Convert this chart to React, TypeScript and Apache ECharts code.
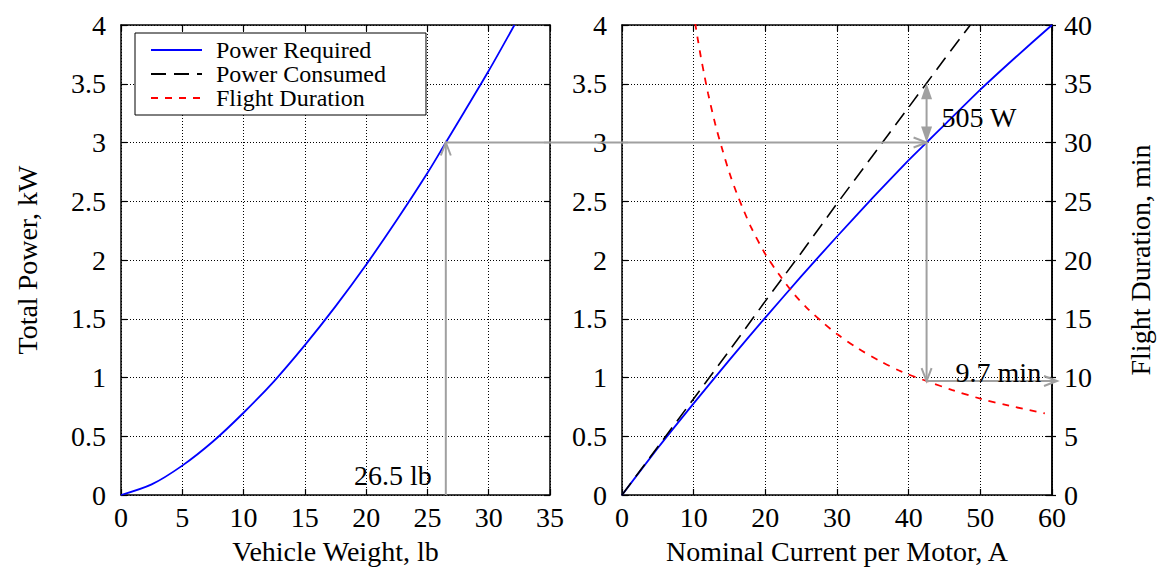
import React, { useEffect, useRef } from "react";
import * as echarts from "echarts";

// ---------- data ----------
const weightLb = [0, 2.5, 5, 7.5, 10, 12.5, 15, 17.5, 20, 22.5, 25, 26.5, 28, 30, 32.1];
const powerVsWeightKW = [0, 0.09, 0.25, 0.455, 0.7, 0.97, 1.275, 1.605, 1.96, 2.34, 2.74, 3.0, 3.26, 3.61, 4.0];

const currentReqA = [0, 5, 10, 15, 20, 25, 30, 35, 40, 42.5, 45, 50, 55, 60];
const powerRequiredKW = [0, 0.4, 0.78, 1.15, 1.51, 1.86, 2.2, 2.53, 2.85, 3.0, 3.15, 3.45, 3.73, 4.0];

const currentConsA = [0, 5, 10, 15, 20, 25, 30, 35, 40, 42.5, 45, 48.6];
const powerConsumedKW = [0, 0.41, 0.82, 1.23, 1.65, 2.06, 2.48, 2.89, 3.3, 3.505, 3.71, 4.0];

const currentDurA = [10.2, 10.6, 11, 11.5, 12, 13, 14, 15, 16, 17, 18, 20, 22, 24, 26, 28, 30, 33, 36, 39, 42.5, 46, 50, 54, 59];
const flightDurationMin = [40.2, 38.7, 37.3, 35.7, 34.2, 31.6, 29.4, 27.4, 25.7, 24.2, 22.8, 20.5, 18.7, 17.1, 15.8, 14.7, 13.7, 12.45, 11.4, 10.5, 9.7, 8.95, 8.2, 7.6, 6.95];

const weightTicks = { min: 0, max: 35, interval: 5 };
const currentTicks = { min: 0, max: 60, interval: 10 };
const powerTicks = { min: 0, max: 4, interval: 0.5 };
const durationTicks = { min: 0, max: 40, interval: 5 };

const annotWeight = 26.5;
const annotPower = 3;
const annotCurrent = 42.5;
const annotPowerDiff = 0.505;
const annotDuration = 9.7;

const labels = {
  weight: "26.5 lb",
  diff: "505 W",
  duration: "9.7 min",
};

// ---------- style ----------
const FONT = "Liberation Serif";
const FS = 28;
const LEGEND_FS = 24;
const GRAY = "#a0a0a0";

const zip = (xs: number[], ys: number[]) => xs.map((x, i) => [x, ys[i]]);

function frameAxis(extra: any) {
  return {
    type: "value",
    axisLine: { show: true, onZero: false, lineStyle: { color: "#000", width: 1.5 } },
    axisTick: { show: true, inside: true, length: 6, lineStyle: { color: "#000", width: 1.2 } },
    axisLabel: { show: false },
    splitLine: { show: false },
    ...extra,
  };
}

const labelStyle = (margin: number) => ({
  show: true,
  fontFamily: FONT,
  fontSize: FS,
  color: "#000",
  margin,
});

const gridLine = {
  show: true,
  lineStyle: { color: "#000", width: 1, type: [1, 2] },
};

const nameStyle = { fontFamily: FONT, fontSize: FS, color: "#000" };

export default function App() {
  const ref = useRef<HTMLDivElement>(null);

  useEffect(() => {
    if (!ref.current) return;
    const chart = echarts.init(ref.current, null, { renderer: "svg" });

    const option: any = {
      animation: false,
      backgroundColor: "#fff",
      textStyle: { fontFamily: FONT },
      grid: [
        { left: 121, top: 25, width: 429, height: 470 },
        { left: 622, top: 25, width: 430, height: 470 },
      ],
      xAxis: [
        frameAxis({
          gridIndex: 0,
          position: "bottom",
          ...weightTicks,
          axisLabel: labelStyle(8),
          splitLine: gridLine,
          name: "Vehicle Weight, lb",
          nameLocation: "middle",
          nameGap: 42,
          nameTextStyle: nameStyle,
        }),
        frameAxis({ gridIndex: 0, position: "top", ...weightTicks }),
        frameAxis({
          gridIndex: 1,
          position: "bottom",
          ...currentTicks,
          axisLabel: labelStyle(8),
          splitLine: gridLine,
          name: "Nominal Current per Motor, A",
          nameLocation: "middle",
          nameGap: 42,
          nameTextStyle: nameStyle,
        }),
        frameAxis({ gridIndex: 1, position: "top", ...currentTicks }),
      ],
      yAxis: [
        frameAxis({
          gridIndex: 0,
          position: "left",
          ...powerTicks,
          axisLabel: labelStyle(15),
          splitLine: gridLine,
          name: "Total Power, kW",
          nameLocation: "middle",
          nameGap: 80,
          nameTextStyle: nameStyle,
        }),
        frameAxis({ gridIndex: 0, position: "right", ...powerTicks }),
        frameAxis({
          gridIndex: 1,
          position: "left",
          ...powerTicks,
          axisLabel: labelStyle(15),
          splitLine: gridLine,
        }),
        frameAxis({
          gridIndex: 1,
          position: "right",
          ...durationTicks,
          axisTick: { show: true, inside: false, length: 4, lineStyle: { color: "#000", width: 1.2 } },
          axisLabel: labelStyle(12),
          name: "Flight Duration, min",
          nameLocation: "middle",
          nameGap: 74,
          nameTextStyle: nameStyle,
        }),
        frameAxis({ gridIndex: 1, position: "right", ...powerTicks }),
      ],
      legend: {
        orient: "vertical",
        left: 135,
        top: 33,
        data: ["Power Required", "Power Consumed", "Flight Duration"],
        backgroundColor: "#fff",
        borderColor: "#000",
        borderWidth: 1,
        borderRadius: 0,
        padding: [5, 40, 5, 15],
        itemWidth: 51,
        itemHeight: 24,
        itemGap: 0,
        itemStyle: { opacity: 0, borderWidth: 0 },
        textStyle: {
          fontFamily: FONT,
          fontSize: LEGEND_FS,
          color: "#000",
          padding: [0, 0, 0, 9],
        },
        z: 10,
      },
      series: [
        {
          name: "Power Required",
          type: "line",
          xAxisIndex: 0,
          yAxisIndex: 0,
          data: zip(weightLb, powerVsWeightKW),
          symbol: "none",
          smooth: 0.3,
          lineStyle: { color: "#0000ff", width: 1.8 },
          itemStyle: { color: "#0000ff" },
        },
        {
          name: "Power Required",
          type: "line",
          xAxisIndex: 2,
          yAxisIndex: 2,
          data: zip(currentReqA, powerRequiredKW),
          symbol: "none",
          smooth: 0.2,
          lineStyle: { color: "#0000ff", width: 1.8 },
          itemStyle: { color: "#0000ff" },
        },
        {
          name: "Power Consumed",
          type: "line",
          xAxisIndex: 2,
          yAxisIndex: 2,
          data: zip(currentConsA, powerConsumedKW),
          symbol: "none",
          lineStyle: { color: "#000", width: 1.6, type: [15, 8] },
          itemStyle: { color: "#000" },
        },
        {
          name: "Flight Duration",
          type: "line",
          xAxisIndex: 2,
          yAxisIndex: 3,
          data: zip(currentDurA, flightDurationMin),
          symbol: "none",
          smooth: 0.3,
          lineStyle: { color: "#ff0000", width: 1.8, type: [7, 7] },
          itemStyle: { color: "#ff0000" },
        },
      ],
    };

    chart.setOption(option);

    const px = (axis: number, v: number) => chart.convertToPixel({ xAxisIndex: axis } as any, v) as number;
    const py = (axis: number, v: number) => chart.convertToPixel({ yAxisIndex: axis } as any, v) as number;

    const xW = px(0, annotWeight);
    const y3L = py(0, annotPower);
    const y0L = py(0, 0);
    const xI = px(2, annotCurrent);
    const y3R = py(2, annotPower);
    const yTop = py(2, annotPower + annotPowerDiff);
    const yDur = py(3, annotDuration);
    const xEnd = px(2, currentTicks.max) + 5;

    const stroke = { stroke: GRAY, lineWidth: 2, fill: "none" };
    const Z = 50;

    const line = (x1: number, y1: number, x2: number, y2: number) => ({
      type: "line",
      z: Z,
      shape: { x1, y1, x2, y2 },
      style: stroke,
    });
    const openHead = (tx: number, ty: number, dx: number, dy: number) => {
      const len = 13;
      const half = 5;
      const bx = tx - dx * len;
      const by = ty - dy * len;
      return {
        type: "polyline",
        z: Z,
        shape: {
          points: [
            [bx - dy * half, by + dx * half],
            [tx, ty],
            [bx + dy * half, by - dx * half],
          ],
        },
        style: stroke,
      };
    };
    const filledHead = (tx: number, ty: number, dx: number, dy: number) => {
      const len = 16;
      const half = 5.5;
      const bx = tx - dx * len;
      const by = ty - dy * len;
      return {
        type: "polygon",
        z: Z,
        shape: {
          points: [
            [tx, ty],
            [bx - dy * half, by + dx * half],
            [bx + dy * half, by - dx * half],
          ],
        },
        style: { fill: GRAY, stroke: "none" },
      };
    };
    const text = (x: number, y: number, t: string, align: string) => ({
      type: "text",
      z: Z + 1,
      x,
      y,
      style: {
        text: t,
        fontFamily: FONT,
        fontSize: FS,
        fill: "#000",
        align,
        verticalAlign: "middle",
      },
    });

    chart.setOption({
      graphic: [
        line(xW, y0L, xW, y3L),
        openHead(xW, y3L, 0, -1),
        line(xW, y3L, xI, y3R),
        openHead(xI, y3R, 1, 0),
        line(xI, yTop + 4, xI, y3R - 4),
        filledHead(xI, yTop, 0, -1),
        filledHead(xI, y3R, 0, 1),
        line(xI, y3R, xI, yDur),
        openHead(xI, yDur, 0, 1),
        line(xI, yDur, xEnd, yDur),
        openHead(xEnd, yDur, 1, 0),
        text(xW - 14, y0L - 20, labels.weight, "right"),
        text(xI + 15, (yTop + y3R) / 2 + 5, labels.diff, "left"),
        text(xI + 29, yDur - 9, labels.duration, "left"),
      ],
    });

    return () => chart.dispose();
  }, []);

  return (
    <div
      ref={ref}
      style={{ position: "absolute", left: 0, top: 0, width: 1158, height: 575 }}
    />
  );
}
